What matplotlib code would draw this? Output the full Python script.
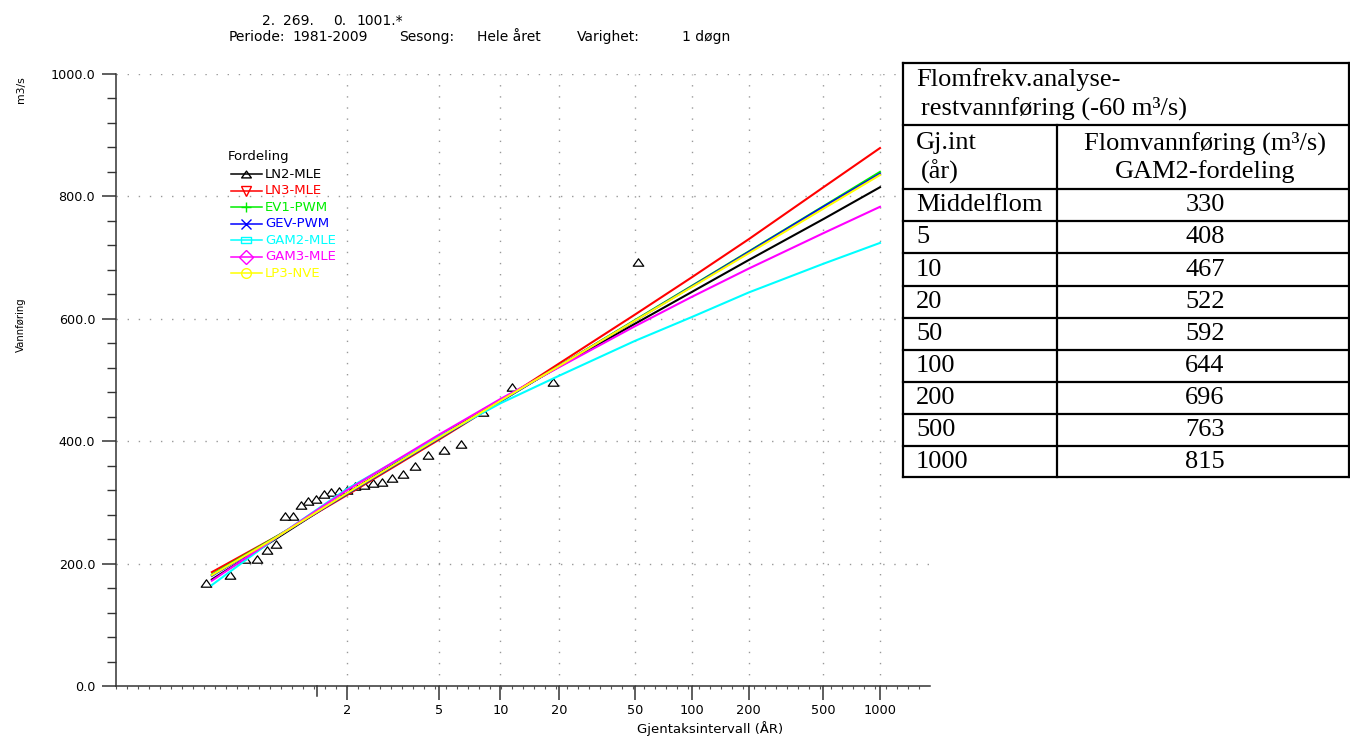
import numpy as np
import matplotlib
matplotlib.use('Agg')
import matplotlib.pyplot as plt
from matplotlib.path import Path
from matplotlib.patches import Rectangle
import matplotlib.transforms as mtransforms

# observed annual floods (m3/s), largest first, with their plotting return periods (years)
obs_T = [52.0, 18.67, 11.375, 8.180, 6.386, 5.237, 4.439, 3.852, 3.402, 3.046,
         2.758, 2.519, 2.318, 2.148, 2.000, 1.871, 1.758, 1.658, 1.569, 1.489,
         1.416, 1.351, 1.291, 1.236, 1.186, 1.139, 1.096, 1.057, 1.020]
obs_Q = [693, 496, 489, 448, 396, 386, 377, 360, 346, 340,
         333, 331, 328, 326, 320, 319, 317, 314, 306, 303,
         296, 278, 278, 232, 222, 208, 207, 181, 169]

curve_T = [1.027, 1.25, 2, 5, 10, 20, 50, 100, 200, 500, 1000]
ln2 = [174, 243, 315, 408, 467, 522, 592, 644, 696, 763, 815]
ln3 = [186, 246, 312, 403, 465, 527, 607, 668, 730, 815, 879]
ev1 = [182, 246, 314, 405, 465, 523, 598, 654, 710, 784, 840]
gev = [180, 245, 314, 405, 465, 523, 597, 653, 709, 783, 837]
gam2 = [165, 245, 322, 408, 462, 507, 564, 603, 643, 690, 724]
gam3 = [172, 245, 320, 411, 469, 521, 588, 636, 682, 740, 783]
lp3 = [181, 245, 315, 406, 466, 523, 597, 652, 707, 780, 835]

curve_names = ['LN2-MLE', 'LN3-MLE', 'EV1-PWM', 'GEV-PWM', 'GAM2-MLE', 'GAM3-MLE', 'LP3-NVE']
curve_colors = ['#000000', '#ff0000', '#00ee00', '#0000ff', '#00ffff', '#ff00ff', '#ffff00']
curves = [ln2, ln3, ev1, gev, gam2, gam3, lp3]

x_ticks = [2, 5, 10, 20, 50, 100, 200, 500, 1000]
y_ticks = [0, 200, 400, 600, 800, 1000]

# table at the right
tab_rows = ['Middelflom', '5', '10', '20', '50', '100', '200', '500', '1000']
tab_vals = ['330', '408', '467', '522', '592', '644', '696', '763', '815']


def fwd(t):
    t = np.clip(np.asarray(t, dtype=float), 1.0 + 1e-12, None)
    return -np.log(-np.log(1.0 - 1.0 / t))


def inv(y):
    return 1.0 / (1.0 - np.exp(-np.exp(-np.asarray(y, dtype=float))))


W, H = 1350, 737
fig = plt.figure(figsize=(W / 100, H / 100), dpi=100)
ax = fig.add_axes([116 / W, 1 - 686 / H, 814 / W, 612 / H])
ax.set_xscale('function', functions=(fwd, inv))
ax.set_xlim(inv(-2.468), inv(7.521))
ax.set_ylim(0, 1000)

for s in ['top', 'right']:
    ax.spines[s].set_visible(False)
for s in ['left', 'bottom']:
    ax.spines[s].set_color('#333333')
    ax.spines[s].set_linewidth(1.1)

# dotted grid
dots = (0, (1, 7))
for t in x_ticks:
    ax.axvline(t, color='#999999', lw=1.0, ls=dots, zorder=0)
for v in y_ticks[1:]:
    ax.axhline(v, color='#999999', lw=1.0, ls=dots, zorder=0)

# observations
tri = Path([(-1, -0.7), (1, -0.7), (0, 0.7), (-1, -0.7)],
           [Path.MOVETO, Path.LINETO, Path.LINETO, Path.CLOSEPOLY])
ax.plot(obs_T, obs_Q, ls='none', marker=tri, ms=7.6, mfc='white', mec='black', mew=0.9, zorder=2)

# fitted curves
for vals, c in zip(curves, curve_colors):
    ax.plot(curve_T, vals, color=c, lw=1.5, zorder=3)

# ticks
ax.set_yticks(y_ticks)
ax.set_yticklabels(['%.1f' % v for v in y_ticks])
ax.set_yticks(np.arange(0, 1001, 40), minor=True)
ax.tick_params(axis='y', which='major', length=10, width=1.1, pad=5, labelsize=9.2, color='#333333')
ax.tick_params(axis='y', which='minor', length=6.5, width=1.0, color='#333333')

ax.set_xticks(x_ticks)
ax.set_xticklabels([str(t) for t in x_ticks])
ax.set_xticks(inv(np.arange(-2.468, 7.52, 0.135)), minor=True)
ax.xaxis.set_minor_formatter(matplotlib.ticker.NullFormatter())
ax.tick_params(axis='x', which='major', length=10, width=1.1, pad=3, labelsize=9.3, color='#333333')
ax.tick_params(axis='x', which='minor', length=2, width=0.8, color='#555555')

# short unlabelled tick at the mean-flood return period
trans = mtransforms.blended_transform_factory(ax.transData, ax.transAxes)
ax.plot([1.582, 1.582], [0, -10 / 612], color='#333333', lw=1.1, transform=trans, clip_on=False)

# overlay in pixel coordinates for text, legend and table
ov = fig.add_axes([0, 0, 1, 1])
ov.set_xlim(0, W)
ov.set_ylim(H, 0)
ov.axis('off')

ov.text(710, 729, 'Gjentaksintervall (ÅR)', ha='center', va='center', fontsize=9.5)
ov.text(21, 325, 'Vannføring', ha='center', va='center', rotation=90, fontsize=7.3)
ov.text(21, 90, 'm3/s', ha='center', va='center', rotation=90, fontsize=7.8)

for x, s in [(262, '2.'), (283, '269.'), (333, '0.'), (356, '1001.*')]:
    ov.text(x, 21, s, ha='left', va='center', fontsize=10)
for x, s in [(229, 'Periode:'), (292, '1981-2009'), (399, 'Sesong:'),
             (477, 'Hele året'), (577, 'Varighet:'), (682, '1 døgn')]:
    ov.text(x, 37, s, ha='left', va='center', fontsize=10)

# legend
box = Path([(-1, -0.55), (1, -0.55), (1, 0.55), (-1, 0.55), (-1, -0.55)],
           [Path.MOVETO, Path.LINETO, Path.LINETO, Path.LINETO, Path.CLOSEPOLY])
markers = [tri, 'v', '+', 'x', box, 'D', 'o']
ov.text(228, 156, 'Fordeling', ha='left', va='center', fontsize=9.5)
for i, (name, c, m) in enumerate(zip(curve_names, curve_colors, markers)):
    yy = 174 + 16.5 * i
    ov.plot([231, 262], [yy, yy], color=c, lw=1.1)
    ov.plot([246], [yy], marker=m, ms=7, mfc='none', mec=c, mew=1.0)
    ov.text(265, yy, name, color=c, ha='left', va='center', fontsize=9.5)

# table
tx0, tx1, tcol = 903, 1349, 1057
row_edges = [63, 125, 189, 221, 253, 286, 318, 350, 382, 414, 446, 477]
ov.add_patch(Rectangle((tx0, 63), tx1 - tx0, 477 - 63, facecolor='white', edgecolor='none'))
lw_t = 1.6
for yb in row_edges:
    ov.plot([tx0, tx1], [yb, yb], color='black', lw=lw_t, solid_capstyle='projecting')
ov.plot([tx0, tx0], [63, 477], color='black', lw=lw_t)
ov.plot([tx1, tx1], [63, 477], color='black', lw=lw_t)
ov.plot([tcol, tcol], [125, 477], color='black', lw=lw_t)

tf = dict(family=['Liberation Serif', 'DejaVu Serif'], fontsize=19)
ov.text(916, 80, 'Flomfrekv.analyse-', ha='left', va='center', **tf)
ov.text(921, 108, 'restvannføring (-60 m³/s)', ha='left', va='center', **tf)
ov.text(916, 143, 'Gj.int', ha='left', va='center', **tf)
ov.text(921, 172, '(år)', ha='left', va='center', **tf)
ov.text(1205, 143, 'Flomvannføring (m³/s)', ha='center', va='center', **tf)
ov.text(1205, 172, 'GAM2-fordeling', ha='center', va='center', **tf)
for i, (r, v) in enumerate(zip(tab_rows, tab_vals)):
    yc = (row_edges[i + 2] + row_edges[i + 3]) / 2
    ov.text(916, yc, r, ha='left', va='center', **tf)
    ov.text(1205, yc, v, ha='center', va='center', **tf)

fig.savefig('out.png', dpi=100)
